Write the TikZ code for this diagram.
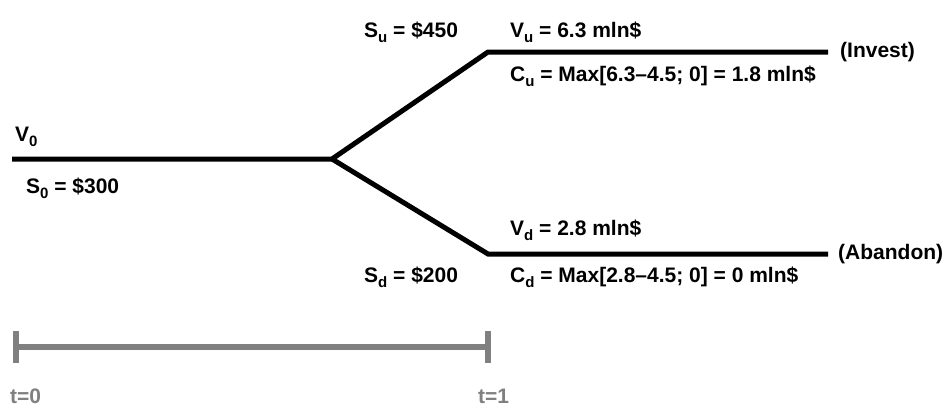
\documentclass[tikz,border=0pt]{standalone}
\usepackage{fontspec}
\setmainfont{Liberation Sans}
\newcommand\lowsub[1]{\raisebox{-0.28em}{\fontsize{15}{15}\selectfont #1}}
\begin{document}
\begin{tikzpicture}[x=1pt,y=-1pt,
  branch/.style={line width=5pt, line join=miter},
  scale bar/.style={line width=6pt, draw={rgb,255:red,128;green,128;blue,128}},
  lbl/.style={inner sep=0pt, anchor=base west, font=\fontsize{21}{23}\selectfont\bfseries},
  grey lbl/.style={lbl, text={rgb,255:red,128;green,128;blue,128}},
  endlbl/.style={lbl, anchor=west}]
\useasboundingbox (0,0) rectangle (948,407);
% tree
\coordinate (start) at (12,159);
\coordinate (fork) at (332,159);
\coordinate (upk) at (488,52);
\coordinate (upend) at (828,52);
\coordinate (dnk) at (488,254);
\coordinate (dnend) at (828,254);
\draw[branch] (start) -- (fork) -- (upk) -- (upend);
\draw[branch] (fork) -- (dnk) -- (dnend);
% labels
\node[lbl] (v0) at (15,141) {V\lowsub{0}};
\node[lbl] (s0) at (26,193) {S\lowsub{0} = \$300};
\node[lbl] (su) at (364,37) {S\lowsub{u} = \$450};
\node[lbl] (vu) at (510,37) {V\lowsub{u} = 6.3 mln\$};
\node[lbl] (cu) at (510,81) {C\lowsub{u} = Max[6.3–4.5; 0] = 1.8 mln\$};
\node[endlbl] (inv) at (840,52) {(Invest)};
\node[lbl] (vd) at (510,235) {V\lowsub{d} = 2.8 mln\$};
\node[lbl] (sd) at (364,282) {S\lowsub{d} = \$200};
\node[lbl] (cd) at (510,282) {C\lowsub{d} = Max[2.8–4.5; 0] = 0 mln\$};
\node[endlbl] (aba) at (838,254) {(Abandon)};
% time scale
\coordinate (t0) at (16,347);
\coordinate (t1) at (488,347);
\draw[scale bar] (t0) -- (t1);
\draw[scale bar] ([yshift=-16pt]t0) -- ([yshift=16pt]t0);
\draw[scale bar] ([yshift=-16pt]t1) -- ([yshift=16pt]t1);
\node[grey lbl] (lt0) at (10,403) {t=0};
\node[grey lbl] (lt1) at (478,403) {t=1};
\end{tikzpicture}
\end{document}
